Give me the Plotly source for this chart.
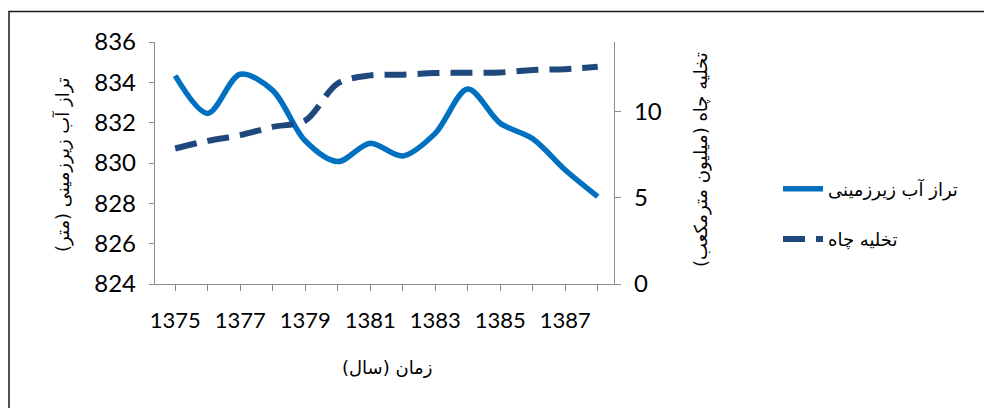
import plotly.graph_objects as go

# ---- data ----
years = [1375, 1376, 1377, 1378, 1379, 1380, 1381, 1382, 1383, 1384, 1385, 1386, 1387, 1388]
groundwater_level = [834.33, 832.46, 834.40, 833.60, 831.10, 830.07, 830.98, 830.35,
                     831.47, 833.67, 831.97, 831.20, 829.65, 828.33]
well_discharge = [7.84, 8.28, 8.61, 9.09, 9.45, 11.60, 12.07, 12.11,
                  12.20, 12.22, 12.24, 12.38, 12.43, 12.57]

name_level = "تراز آب زیرزمینی"
name_discharge = "تخلیه چاه"
title_x = "زمان (سال)"
title_y1 = "تراز آب زیرزمینی (متر)"
title_y2 = "تخلیه چاه (میلیون مترمکعب)"
left_ticks = [824, 826, 828, 830, 832, 834, 836]
right_ticks = [0, 5, 10]
x_ticks = [1375, 1377, 1379, 1381, 1383, 1385, 1387]

W, H = 984, 408
L, R, T, B = 155, 614, 42, 284
pw, ph = R - L, B - T

def px(x):
    return (x - L) / pw

def py(y):
    return (B - y) / ph

num_font = "Lato, 'Open Sans', sans-serif"
fa_font = "'DejaVu Sans', sans-serif"
axis_grey = "#8c8c8c"

fig = go.Figure()
fig.add_trace(go.Scatter(
    x=years, y=groundwater_level, name=name_level, mode="lines",
    line=dict(color="#0070C0", width=5.5, shape="spline", smoothing=0.9),
    legendgroup="a", yaxis="y",
))
fig.add_trace(go.Scatter(
    x=years, y=well_discharge, name=name_discharge, mode="lines",
    line=dict(color="#1F497D", width=6, shape="spline", smoothing=0.9, dash="22px,11px"),
    legendgroup="b", yaxis="y2",
))

fig.update_layout(
    width=W, height=H,
    margin=dict(l=L, r=W - R, t=T, b=H - B, pad=0),
    paper_bgcolor="white", plot_bgcolor="white",
    font=dict(family=num_font, color="#000000", size=16),
    showlegend=True,
    legend=dict(
        x=px(778), y=py(214), xanchor="left", yanchor="middle",
        font=dict(family=fa_font, size=18, color="#000000"),
        traceorder="grouped", tracegroupgap=24,
        bgcolor="rgba(0,0,0,0)", itemwidth=40,
    ),
    xaxis=dict(
        range=[1374.38, 1388.5], tickmode="array", tickvals=x_ticks,
        ticktext=[str(v) for v in x_ticks],
        ticks="outside", ticklen=6, tickcolor=axis_grey, tickwidth=1.3,
        minor=dict(dtick=1, tick0=1375, ticks="outside", ticklen=6,
                   tickcolor=axis_grey, tickwidth=1.3, showgrid=False),
        showline=True, linecolor=axis_grey, linewidth=1.3,
        showgrid=False, zeroline=False,
        tickfont=dict(family=num_font, size=22), ticklabelstandoff=10,
    ),
    yaxis=dict(
        range=[824, 836], tickvals=left_ticks,
        ticks="outside", ticklen=5, tickcolor=axis_grey, tickwidth=1.3,
        showline=True, linecolor=axis_grey, linewidth=1.3,
        showgrid=False, zeroline=False,
        tickfont=dict(family=num_font, size=24), ticklabelstandoff=8,
    ),
    yaxis2=dict(
        range=[0, 14], tickvals=right_ticks, overlaying="y", side="right",
        ticks="outside", ticklen=6, tickcolor=axis_grey, tickwidth=1.3,
        showline=True, linecolor=axis_grey, linewidth=1.3,
        showgrid=False, zeroline=False,
        tickfont=dict(family=num_font, size=24), ticklabelstandoff=8,
    ),
    annotations=[
        dict(text=title_x, xref="paper", yref="paper", x=px(387), y=py(367),
             xanchor="center", yanchor="middle", showarrow=False,
             font=dict(family=fa_font, size=18)),
        dict(text=title_y1, xref="paper", yref="paper", x=px(62), y=py(165),
             xanchor="center", yanchor="middle", showarrow=False, textangle=-90,
             font=dict(family=fa_font, size=18)),
        dict(text=title_y2, xref="paper", yref="paper", x=px(701), y=py(160),
             xanchor="center", yanchor="middle", showarrow=False, textangle=-90,
             font=dict(family=fa_font, size=18)),
    ],
    shapes=[
        dict(type="rect", xref="paper", yref="paper",
             x0=px(9), x1=px(W + 20), y0=py(H + 20), y1=py(11.5),
             line=dict(color="#1a1a1a", width=1.5), fillcolor="rgba(0,0,0,0)", layer="below"),
    ],
)

fig.write_html(
    "out.html",
    config={"displayModeBar": False},
    post_script="document.body.style.margin='0';document.body.style.overflow='hidden';",
)
